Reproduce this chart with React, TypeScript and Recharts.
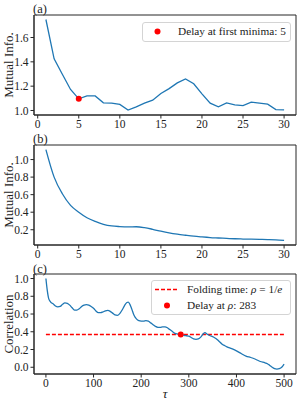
import React from "react";
import { LineChart, Line, XAxis, YAxis, ReferenceDot, ReferenceLine, ReferenceArea } from "recharts";

// (a) mutual information, lags 1..30
const lagsA = [1, 2, 3, 4, 5, 6, 7, 8, 9, 10, 11, 12, 13, 14, 15, 16, 17, 18, 19, 20, 21, 22, 23, 24, 25, 26, 27, 28, 29, 30];
const miA = [1.748, 1.425, 1.298, 1.173, 1.096, 1.12, 1.12, 1.063, 1.06, 1.05, 1.003, 1.03, 1.06, 1.085, 1.14, 1.18, 1.227, 1.26, 1.22, 1.137, 1.06, 1.03, 1.063, 1.047, 1.04, 1.068, 1.06, 1.052, 1.008, 1.005];
const firstMin = { x: 5, y: 1.096 };

// (b) mutual information, second series
const miB = [1.114, 0.8, 0.61, 0.478, 0.4, 0.337, 0.295, 0.262, 0.243, 0.236, 0.233, 0.234, 0.224, 0.205, 0.183, 0.164, 0.149, 0.137, 0.126, 0.118, 0.111, 0.106, 0.101, 0.097, 0.094, 0.092, 0.09, 0.088, 0.085, 0.079];

// (c) autocorrelation
const tauC = [0, 3, 6, 10, 15, 20, 25, 30, 35, 40, 45, 50, 55, 60, 65, 70, 75, 80, 85, 90, 95, 100, 105, 110, 115, 120, 125, 130, 135, 140, 145, 150, 155, 160, 165, 170, 173, 177, 180, 185, 190, 195, 200, 205, 210, 215, 220, 225, 230, 235, 240, 245, 250, 255, 260, 265, 270, 275, 280, 285, 290, 295, 300, 305, 310, 315, 320, 325, 330, 334, 338, 345, 350, 355, 360, 365, 370, 375, 380, 390, 400, 410, 420, 430, 440, 450, 460, 465, 470, 475, 480, 485, 490, 495, 500];
const corrC = [1.0, 0.86, 0.77, 0.735, 0.715, 0.69, 0.68, 0.685, 0.71, 0.725, 0.72, 0.7, 0.67, 0.645, 0.645, 0.66, 0.685, 0.7, 0.705, 0.7, 0.685, 0.665, 0.635, 0.615, 0.615, 0.625, 0.635, 0.64, 0.63, 0.61, 0.59, 0.585, 0.605, 0.645, 0.695, 0.73, 0.735, 0.7, 0.66, 0.585, 0.545, 0.525, 0.52, 0.52, 0.525, 0.52, 0.5, 0.48, 0.46, 0.45, 0.45, 0.455, 0.455, 0.445, 0.425, 0.405, 0.385, 0.375, 0.37, 0.37, 0.36, 0.355, 0.35, 0.335, 0.32, 0.315, 0.32, 0.34, 0.375, 0.39, 0.375, 0.355, 0.345, 0.33, 0.31, 0.285, 0.26, 0.245, 0.23, 0.21, 0.185, 0.155, 0.125, 0.11, 0.09, 0.065, 0.05, 0.04, 0.02, 0.0, -0.015, -0.02, -0.015, 0.0, 0.035];
const foldLevel = 1 / Math.E;
const delayAtRho = { x: 283, y: 0.368 };

const ticksLag = [0, 5, 10, 15, 20, 25, 30];
const ticksA = [1.0, 1.2, 1.4, 1.6];
const ticksB = [0.2, 0.4, 0.6, 0.8, 1.0];
const ticksC = [0.0, 0.2, 0.4, 0.6, 0.8, 1.0];
const ticksTau = [0, 100, 200, 300, 400, 500];

const domLag: [number, number] = [-0.45, 31.45];
const domA: [number, number] = [0.963, 1.785];
const domB: [number, number] = [0.026, 1.166];
const domTau: [number, number] = [-25, 525];
const domC: [number, number] = [-0.076, 1.051];

const dataA = lagsA.map((t, i) => ({ t, v: miA[i] }));
const dataB = lagsA.map((t, i) => ({ t, v: miB[i] }));
const dataC = tauC.map((t, i) => ({ t, v: corrC[i] }));

const FONT = "'Liberation Serif', 'DejaVu Serif', serif";
const AX = "#262626";
const BLUE = "#1f77b4";
const tickStyle = { fontSize: 11.5, fill: "#222", fontFamily: FONT };
const fmt1 = (v: number) => v.toFixed(1);

function yLabel(value: string) {
  return { value, angle: -90, position: "insideLeft" as const, offset: 8, style: { textAnchor: "middle", fontSize: 13, fontFamily: FONT, fill: "#222" } };
}

function frame(x: [number, number], y: [number, number]) {
  return <ReferenceArea x1={x[0]} x2={x[1]} y1={y[0]} y2={y[1]} fill="none" stroke={AX} strokeWidth={1} ifOverflow="visible" />;
}

function PanelTag({ top, text }: { top: number; text: string }) {
  return (
    <div style={{ position: "absolute", left: 33, top, fontFamily: FONT, fontSize: 12.5, color: "#222", lineHeight: "14px" }}>{text}</div>
  );
}

const legendBox: React.CSSProperties = {
  position: "absolute",
  background: "rgba(255,255,255,0.8)",
  border: "1px solid #d4d4d4",
  borderRadius: 3,
  fontFamily: FONT,
  fontSize: 11.3,
  color: "#222",
  boxSizing: "border-box",
};

const txt: React.CSSProperties = { position: "absolute", whiteSpace: "nowrap", lineHeight: "13px" };

export default function App() {
  return (
    <div style={{ position: "absolute", left: 0, top: 0, width: 303, height: 405, background: "#fff" }}>
      <div style={{ position: "absolute", left: 0, top: 0 }}>
        <LineChart width={303} height={130} data={dataA} margin={{ top: 15, right: 7, left: 0, bottom: 0 }}>
          <XAxis dataKey="t" type="number" domain={domLag} ticks={ticksLag} height={15} tickSize={3.5} tickMargin={1} stroke={AX} tick={tickStyle} allowDataOverflow />
          <YAxis type="number" domain={domA} ticks={ticksA} tickFormatter={fmt1} width={34} tickSize={3.5} tickMargin={2} stroke={AX} tick={tickStyle} allowDataOverflow label={yLabel("Mutual Info.")} />
          {frame(domLag, domA)}
          <Line dataKey="v" type="linear" stroke={BLUE} strokeWidth={1.3} dot={false} isAnimationActive={false} />
          <ReferenceDot x={firstMin.x} y={firstMin.y} r={3} fill="red" stroke="none" />
        </LineChart>
      </div>
      <PanelTag top={2} text="(a)" />
      <div style={{ ...legendBox, left: 142, top: 22, width: 149, height: 20 }}>
        <svg style={{ position: "absolute", left: 0, top: 0 }} width={30} height={18}>
          <circle cx={14.5} cy={8.5} r={3} fill="red" />
        </svg>
        <div style={{ ...txt, left: 35, top: 2 }}>Delay at first minima: {firstMin.x}</div>
      </div>

      <div style={{ position: "absolute", left: 0, top: 130 }}>
        <LineChart width={303} height={130} data={dataB} margin={{ top: 15, right: 7, left: 0, bottom: 0 }}>
          <XAxis dataKey="t" type="number" domain={domLag} ticks={ticksLag} height={15} tickSize={3.5} tickMargin={1} stroke={AX} tick={tickStyle} allowDataOverflow />
          <YAxis type="number" domain={domB} ticks={ticksB} tickFormatter={fmt1} width={34} tickSize={3.5} tickMargin={2} stroke={AX} tick={tickStyle} allowDataOverflow label={yLabel("Mutual Info.")} />
          {frame(domLag, domB)}
          <Line dataKey="v" type="monotone" stroke={BLUE} strokeWidth={1.3} dot={false} isAnimationActive={false} />
        </LineChart>
      </div>
      <PanelTag top={132} text="(b)" />

      <div style={{ position: "absolute", left: 0, top: 260 }}>
        <LineChart width={303} height={145} data={dataC} margin={{ top: 14, right: 7, left: 0, bottom: 0 }}>
          <XAxis dataKey="t" type="number" domain={domTau} ticks={ticksTau} height={31} tickSize={3.5} tickMargin={1} stroke={AX} tick={tickStyle} allowDataOverflow
            label={{ value: "τ", position: "insideBottom", offset: 7, style: { fontSize: 13, fontStyle: "italic", fontFamily: FONT, fill: "#222" } }} />
          <YAxis type="number" domain={domC} ticks={ticksC} tickFormatter={fmt1} width={34} tickSize={3.5} tickMargin={2} stroke={AX} tick={tickStyle} allowDataOverflow label={yLabel("Correlation")} />
          {frame(domTau, domC)}
          <ReferenceLine segment={[{ x: 0, y: foldLevel }, { x: 500, y: foldLevel }]} stroke="red" strokeWidth={1.5} strokeDasharray="4 2" />
          <Line dataKey="v" type="monotone" stroke={BLUE} strokeWidth={1.3} dot={false} isAnimationActive={false} />
          <ReferenceDot x={delayAtRho.x} y={delayAtRho.y} r={3} fill="red" stroke="none" />
        </LineChart>
      </div>
      <PanelTag top={262} text="(c)" />
      <div style={{ ...legendBox, left: 151, top: 280, width: 140, height: 35 }}>
        <svg style={{ position: "absolute", left: 0, top: 0 }} width={30} height={33}>
          <line x1={3} x2={27} y1={8.5} y2={8.5} stroke="red" strokeWidth={1.5} strokeDasharray="4 2" />
          <circle cx={15} cy={24.5} r={3} fill="red" />
        </svg>
        <div style={{ ...txt, left: 35, top: 2 }}>
          Folding time: <i>ρ</i> = 1/<i>e</i>
        </div>
        <div style={{ ...txt, left: 35, top: 18 }}>
          Delay at <i>ρ</i>: {delayAtRho.x}
        </div>
      </div>
    </div>
  );
}
